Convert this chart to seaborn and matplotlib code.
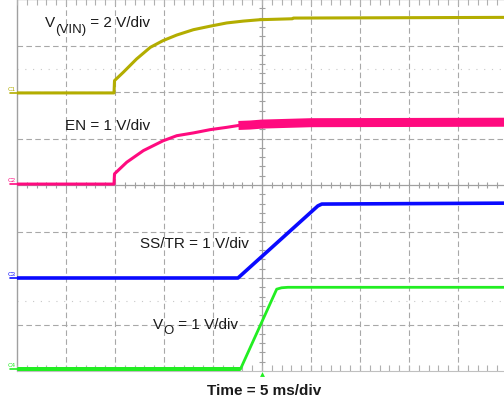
import numpy as np
import pandas as pd
import matplotlib
matplotlib.use("Agg")
import matplotlib.pyplot as plt
import seaborn as sns

sns.set_style("white")
plt.rcParams["font.family"] = ["Liberation Sans", "DejaVu Sans"]

# ---- data: time in ms, trace values in volts ----
vin_t = [-25.0, -15.1, -15.05, -14.15, -12.8, -11.4, -10.1, -8.7, -7.0, -5.3,
         -3.6, -1.9, -0.2, 3.1, 3.2, 25.0]
vin_v = [0.0, 0.0, 0.53, 0.89, 1.46, 1.96, 2.25, 2.49, 2.72, 2.87,
         3.01, 3.09, 3.15, 3.19, 3.22, 3.25]

en_t = [-25.0, -15.1, -15.05, -13.8, -12.1, -10.1, -8.7, -7.0, -5.3, -3.6, -2.4]
en_v = [0.0, 0.0, 0.22, 0.47, 0.72, 0.93, 1.04, 1.10, 1.17, 1.22, 1.26]
en_noise_t = [-2.4, -1.2, 0.0, 5.0, 25.0]
en_noise_v = [1.26, 1.27, 1.29, 1.32, 1.33]

ss_t = [-25.0, -2.45, 5.7, 6.1, 25.0]
ss_v = [0.0, 0.0, 1.55, 1.59, 1.61]

vo_t = [-25.0, -2.2, 1.5, 2.0, 2.65, 25.0]
vo_v = [0.0, 0.0, 1.72, 1.75, 1.76, 1.76]

channels = ["C1", "C2", "C3", "C4"]
volts_per_div = [2.0, 1.0, 1.0, 1.0]
offsets_div = [5.98, 4.02, 2.0, 0.04]
colors = ["#b3ad00", "#ff0a7f", "#0a0aff", "#22ee22"]
labels = ["V", "EN = 1 V/div", "SS/TR = 1 V/div", "V"]

def to_div(v, i):
    return offsets_div[i] + np.asarray(v) / volts_per_div[i]

# ---- figure ----
fig = plt.figure(figsize=(5.04, 4.02), dpi=100)
ax = fig.add_axes([17 / 504, 30 / 402, 490 / 504, 372 / 402])
ax.set_xlim(-25, 25)
ax.set_ylim(0, 8)
ax.set_axis_off()

grid_c = "#a8a8a8"
# dashed grid
for x in np.arange(-20, 21, 5):
    if x != 0:
        ax.axvline(x, color=grid_c, lw=0.8, ls=(0, (5, 3)), zorder=0)
for y in np.arange(1, 8, 1):
    if y != 4:
        ax.axhline(y, color=grid_c, lw=0.8, ls=(0, (5, 3)), zorder=0)
for y in [6.5, 1.5]:
    ax.axhline(y, color="#c8c8c8", lw=0.8, ls=(0, (1, 6)), zorder=0)
# center cross and frame
ax.axvline(0, color="#a0a0a0", lw=0.9, zorder=0)
ax.axhline(4, color="#a0a0a0", lw=0.9, zorder=0)
ax.axvline(-25, color="#a0a0a0", lw=1.0, zorder=0, clip_on=False)
ax.axhline(8, color="#b0b0b0", lw=1.0, zorder=0, clip_on=False)
ax.axhline(0, color="#c0c0c0", lw=0.8, zorder=0, clip_on=False)
# minor ticks on center lines and edges
xt = np.arange(-25, 25.01, 1)
yt = np.arange(0, 8.01, 0.2)
ax.vlines(xt, 4 - 0.065, 4 + 0.065, color="#a0a0a0", lw=0.8, zorder=0)
ax.vlines(xt, 0, 0.12, color="#b0b0b0", lw=0.8, zorder=0)
ax.vlines(xt, 8 - 0.12, 8, color="#b0b0b0", lw=0.8, zorder=0)
ax.hlines(yt, -0.3, 0.3, color="#a0a0a0", lw=0.8, zorder=0)

# ---- traces ----
traces = [(vin_t, vin_v), (en_t, en_v), (ss_t, ss_v), (vo_t, vo_v)]
widths = [2.2, 2.2, 2.6, 2.0]
for i, (t, v) in enumerate(traces):
    df = pd.DataFrame({"t": t, "y": to_div(v, i)})
    sns.lineplot(data=df, x="t", y="y", ax=ax, color=colors[i], lw=widths[i],
                 estimator=None, sort=False, legend=False, zorder=3)

# EN noisy band
df_en = pd.DataFrame({"t": en_noise_t, "y": to_div(en_noise_v, 1)})
sns.lineplot(data=df_en, x="t", y="y", ax=ax, color=colors[1], lw=6.5,
             estimator=None, sort=False, legend=False, zorder=3,
             solid_capstyle="butt")
# Vo noisy baseline
df_vb = pd.DataFrame({"t": vo_t[:2], "y": to_div(vo_v[:2], 3)})
sns.lineplot(data=df_vb, x="t", y="y", ax=ax, color=colors[3], lw=3.6,
             estimator=None, sort=False, legend=False, zorder=3,
             solid_capstyle="butt")
ax.set_xlabel("")
ax.set_ylabel("")

# channel markers on the left
for i, ch in enumerate(channels):
    ax.plot([-25.75, -25.0], [offsets_div[i], offsets_div[i]], color=colors[i],
            lw=1.2, clip_on=False, zorder=4)
    ax.text(-25.1, offsets_div[i] + 0.05, ch, color=colors[i], fontsize=4.5,
            ha="right", va="bottom", clip_on=False)

# trigger marker
ax.plot([0], [-0.06], marker="^", ms=3.5, color=colors[3], clip_on=False,
        zorder=4, mec="none")

# ---- labels ----
tc = "#1a1a1a"
fs = 11
t1 = ax.text(-22.15, 7.42, "V", fontsize=fs, color=tc, va="baseline")
t2 = ax.annotate("(VIN)", xy=(1, 0), xycoords=t1, xytext=(0, -4.2),
                 textcoords="offset points", fontsize=9.5, color=tc, va="bottom")
ax.annotate(" = 2 V/div", xy=(1, 0), xycoords=t2, xytext=(0, 4.2),
            textcoords="offset points", fontsize=fs, color=tc, va="bottom")

ax.text(-20.1, 5.2, labels[1], fontsize=fs, color=tc, va="baseline")
ax.text(-12.45, 2.667, labels[2], fontsize=fs, color=tc, va="baseline")

s1 = ax.text(-11.1, 0.925, "V", fontsize=fs, color=tc, va="baseline")
s2 = ax.annotate("O", xy=(1, 0), xycoords=s1, xytext=(0, -3.6),
                 textcoords="offset points", fontsize=9.5, color=tc, va="bottom")
ax.annotate(" = 1 V/div", xy=(1, 0), xycoords=s2, xytext=(0, 3.6),
            textcoords="offset points", fontsize=fs, color=tc, va="bottom")

fig.text(264 / 504, 1 - 391 / 402, "Time = 5 ms/div", fontsize=fs,
         fontweight="bold", color=tc, ha="center", va="center")

fig.savefig("out.png", dpi=100)
